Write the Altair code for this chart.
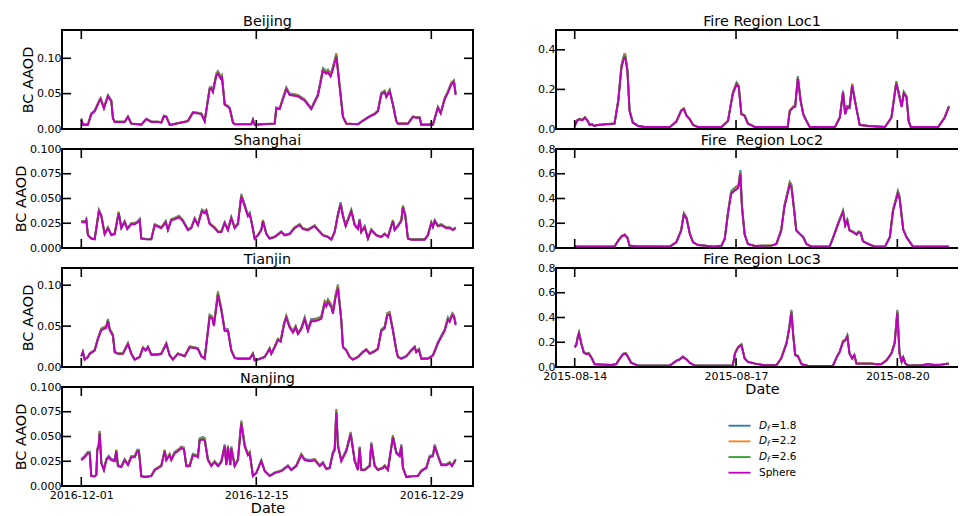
import altair as alt
import pandas as pd

FONT = "DejaVu Sans"

# ---- series definitions -------------------------------------------------
SERIES = ["Df=1.8", "Df=2.2", "Df=2.6", "Sphere"]
SERIES_COLORS = ["#1f77b4", "#ff7f0e", "#2ca02c", "#bf00bf"]
# absorption of each morphology relative to the spherical model
SERIES_RATIO = [1.05, 1.035, 1.02, 1.0]

LEGEND_SYMBOL = ["D", "D", "D", ""]
LEGEND_SUB = ["f", "f", "f", ""]
LEGEND_TEXT = ["=1.8", "=2.2", "=2.6", "Sphere"]

# ---- axis ticks ---------------------------------------------------------
CITY_TICK_DAYS = [0, 14, 28]
CITY_TICK_LABELS = ["2016-12-01", "2016-12-15", "2016-12-29"]
FIRE_TICK_DAYS = [0, 3, 6]
FIRE_TICK_LABELS = ["2015-08-14", "2015-08-17", "2015-08-20"]

# ---- city time series (days since 2016-12-01, BC AAOD for spheres) ------
beijing_day = [0, 0.13, 0.53, 0.8, 1.07, 1.47, 1.55, 1.81, 2.13, 2.4, 2.53, 2.67, 3.47, 3.73, 4.0,
               4.8, 5.2, 5.6, 6.13, 6.4, 6.61, 6.8, 7.07, 7.2, 8.53, 8.93, 9.33, 9.6, 9.87, 10.27,
               10.4, 10.53, 10.8, 10.93, 11.15, 11.25, 11.47, 11.68, 11.87, 12.13, 12.27, 13.6, 13.73,
               13.87, 15.47, 15.6, 15.87, 16.13, 16.4, 16.67, 17.07, 17.33, 17.87, 18.4, 18.67, 18.93,
               19.33, 19.6, 19.73, 19.95, 20.13, 20.4, 20.67, 20.93, 21.2, 22.13, 22.4, 22.93, 23.47,
               23.73, 24.0, 24.27, 24.4, 24.67, 24.93, 25.2, 25.33, 26.13, 26.53, 26.8, 27.07, 27.2,
               28.13, 28.53, 28.75, 29.07, 29.33, 29.6, 29.81, 29.95]
beijing_aod = [0.014, 0.006, 0.006, 0.021, 0.025, 0.040, 0.042, 0.029, 0.046, 0.039, 0.015, 0.010, 0.010,
               0.017, 0.0075, 0.006, 0.014, 0.010, 0.010, 0.009, 0.018, 0.017, 0.006, 0.006, 0.011, 0.023,
               0.022, 0.021, 0.011, 0.056, 0.057, 0.052, 0.075, 0.078, 0.071, 0.073, 0.034, 0.032, 0.029,
               0.009, 0.0066, 0.0066, 0.013, 0.006, 0.0075, 0.029, 0.028, 0.042, 0.056, 0.048, 0.047,
               0.046, 0.040, 0.028, 0.038, 0.047, 0.082, 0.078, 0.080, 0.074, 0.084, 0.102, 0.059, 0.017,
               0.0075, 0.0066, 0.010, 0.016, 0.021, 0.025, 0.049, 0.052, 0.045, 0.053, 0.034, 0.011,
               0.0075, 0.0075, 0.017, 0.016, 0.016, 0.006, 0.006, 0.030, 0.022, 0.042, 0.051, 0.063,
               0.066, 0.048]

shanghai_day = [0, 0.32, 0.4, 0.53, 0.8, 1.07, 1.41, 1.6, 1.87, 2.13, 2.4, 2.67, 2.99, 3.2, 3.47, 3.68,
                3.87, 4.0, 4.27, 4.53, 4.67, 4.8, 5.2, 5.6, 5.87, 6.4, 6.75, 6.93, 7.2, 7.47, 7.81, 8.13,
                8.53, 8.8, 9.07, 9.33, 9.65, 9.87, 10.0, 10.27, 10.67, 10.93, 11.2, 11.47, 11.73, 12.0,
                12.27, 12.53, 12.8, 13.07, 13.33, 13.47, 13.6, 13.87, 14.13, 14.4, 14.53, 14.8, 15.07,
                15.47, 16.0, 16.27, 16.67, 17.07, 17.47, 17.73, 18.13, 18.67, 18.93, 19.33, 19.73, 20.0,
                20.27, 20.53, 20.75, 20.93, 21.15, 21.33, 21.6, 21.87, 22.13, 22.27, 22.4, 22.67, 22.93,
                23.2, 23.6, 24.0, 24.27, 24.53, 24.93, 25.07, 25.33, 25.6, 25.73, 25.92, 26.13, 26.4,
                27.47, 27.73, 28.0, 28.13, 28.27, 28.53, 28.8, 29.2, 29.47, 29.73, 29.95]
shanghai_aod = [0.026, 0.026, 0.028, 0.0127, 0.0094, 0.0087, 0.037, 0.032, 0.014, 0.020, 0.013, 0.014,
                0.035, 0.020, 0.026, 0.019, 0.022, 0.024, 0.024, 0.026, 0.028, 0.0094, 0.0087, 0.0087,
                0.023, 0.020, 0.026, 0.018, 0.028, 0.029, 0.031, 0.027, 0.018, 0.020, 0.029, 0.023, 0.037,
                0.035, 0.037, 0.024, 0.020, 0.016, 0.016, 0.025, 0.018, 0.030, 0.020, 0.024, 0.052, 0.042,
                0.032, 0.034, 0.027, 0.0094, 0.0127, 0.018, 0.027, 0.014, 0.0094, 0.011, 0.016, 0.0127,
                0.014, 0.020, 0.023, 0.019, 0.018, 0.022, 0.018, 0.0127, 0.011, 0.0084, 0.016, 0.033,
                0.044, 0.032, 0.022, 0.028, 0.037, 0.023, 0.019, 0.028, 0.016, 0.021, 0.0094, 0.018,
                0.0127, 0.011, 0.014, 0.011, 0.027, 0.018, 0.022, 0.027, 0.041, 0.032, 0.0094, 0.0084,
                0.0084, 0.0127, 0.025, 0.021, 0.027, 0.022, 0.023, 0.020, 0.020, 0.018, 0.020]

tianjin_day = [0, 0.13, 0.27, 0.53, 0.67, 1.07, 1.33, 1.6, 1.87, 2.0, 2.13, 2.27, 2.53, 2.67, 2.93, 3.33,
               3.73, 4.0, 4.27, 4.67, 4.93, 5.15, 5.33, 5.6, 6.13, 6.4, 6.8, 7.07, 7.33, 7.73, 8.27, 8.67,
               9.07, 9.33, 9.6, 9.87, 10.27, 10.48, 10.61, 10.93, 11.2, 11.47, 11.73, 12.0, 12.27, 12.53,
               13.47, 13.73, 13.87, 14.13, 14.67, 15.07, 15.2, 15.47, 15.73, 15.95, 16.21, 16.4, 16.67,
               16.93, 17.15, 17.33, 17.6, 17.87, 18.13, 18.4, 18.67, 18.93, 19.2, 19.47, 19.6, 19.73,
               20.0, 20.13, 20.32, 20.53, 20.8, 20.93, 21.2, 21.47, 21.73, 22.13, 22.53, 22.8, 23.07,
               23.47, 23.73, 24.0, 24.27, 24.48, 24.67, 24.93, 25.2, 25.33, 25.6, 26.0, 26.4, 26.67,
               26.8, 27.01, 27.2, 27.73, 28.13, 28.53, 29.07, 29.33, 29.47, 29.68, 29.81, 29.95]
tianjin_aod = [0.013, 0.018, 0.009, 0.012, 0.016, 0.020, 0.034, 0.045, 0.047, 0.048, 0.056, 0.045, 0.038,
               0.018, 0.016, 0.016, 0.028, 0.016, 0.009, 0.012, 0.023, 0.020, 0.024, 0.015, 0.015, 0.016,
               0.028, 0.014, 0.009, 0.016, 0.013, 0.024, 0.023, 0.022, 0.013, 0.010, 0.061, 0.059, 0.050,
               0.088, 0.069, 0.044, 0.044, 0.020, 0.011, 0.010, 0.010, 0.016, 0.008, 0.009, 0.012, 0.022,
               0.016, 0.024, 0.033, 0.031, 0.051, 0.060, 0.048, 0.042, 0.048, 0.040, 0.046, 0.058, 0.044,
               0.056, 0.056, 0.057, 0.059, 0.077, 0.074, 0.079, 0.073, 0.065, 0.083, 0.096, 0.056, 0.024,
               0.020, 0.012, 0.009, 0.012, 0.018, 0.021, 0.016, 0.019, 0.022, 0.044, 0.047, 0.063, 0.064,
               0.044, 0.020, 0.012, 0.010, 0.013, 0.020, 0.024, 0.018, 0.021, 0.010, 0.010, 0.014, 0.029,
               0.044, 0.058, 0.055, 0.063, 0.061, 0.051]

nanjing_day = [0, 0.27, 0.53, 0.67, 0.8, 1.07, 1.2, 1.28, 1.39, 1.47, 1.6, 1.81, 2.0, 2.19, 2.4, 2.67,
               2.8, 2.93, 3.2, 3.47, 3.73, 4.0, 4.27, 4.48, 4.61, 4.8, 5.07, 5.47, 5.6, 5.87, 6.13, 6.4,
               6.67, 6.8, 7.07, 7.2, 7.47, 7.73, 8.0, 8.21, 8.4, 8.67, 8.93, 9.2, 9.33, 9.47, 9.73, 9.87,
               10.13, 10.4, 10.67, 10.93, 11.2, 11.47, 11.6, 11.73, 11.92, 12.0, 12.27, 12.53, 12.8,
               13.07, 13.33, 13.47, 13.73, 14.0, 14.4, 14.67, 15.07, 15.47, 16.0, 16.53, 16.8, 17.2,
               17.6, 17.87, 18.27, 18.67, 19.07, 19.33, 19.6, 19.87, 20.13, 20.27, 20.4, 20.53, 20.8,
               21.2, 21.55, 21.87, 22.13, 22.27, 22.4, 22.67, 23.07, 23.2, 23.47, 23.73, 24.13, 24.27,
               24.53, 24.93, 25.2, 25.47, 25.6, 25.73, 26.0, 26.4, 26.93, 27.2, 27.6, 27.87, 28.13,
               28.27, 28.53, 28.8, 29.2, 29.47, 29.65, 29.95]
nanjing_aod = [0.026, 0.029, 0.033, 0.033, 0.010, 0.0097, 0.011, 0.036, 0.040, 0.053, 0.023, 0.016, 0.026,
               0.029, 0.026, 0.025, 0.035, 0.020, 0.019, 0.026, 0.021, 0.029, 0.029, 0.035, 0.035, 0.0097,
               0.009, 0.0097, 0.010, 0.016, 0.018, 0.020, 0.035, 0.026, 0.031, 0.026, 0.033, 0.035, 0.038,
               0.037, 0.020, 0.020, 0.031, 0.030, 0.029, 0.046, 0.047, 0.046, 0.026, 0.020, 0.024, 0.020,
               0.024, 0.040, 0.021, 0.039, 0.021, 0.038, 0.020, 0.026, 0.063, 0.040, 0.031, 0.033, 0.010,
               0.013, 0.025, 0.015, 0.010, 0.013, 0.015, 0.020, 0.016, 0.020, 0.031, 0.026, 0.025, 0.026,
               0.020, 0.023, 0.017, 0.018, 0.033, 0.036, 0.074, 0.040, 0.025, 0.035, 0.052, 0.025, 0.016,
               0.038, 0.016, 0.016, 0.020, 0.042, 0.020, 0.016, 0.018, 0.020, 0.016, 0.049, 0.033, 0.030,
               0.040, 0.018, 0.009, 0.0097, 0.010, 0.015, 0.018, 0.029, 0.030, 0.040, 0.030, 0.021,
               0.021, 0.023, 0.020, 0.026]

# ---- fire region time series (days since 2015-08-14) -------------------
loc1_day = [0, 0.05, 0.09, 0.14, 0.19, 0.24, 0.28, 0.32, 0.36, 0.43, 0.74, 0.81, 0.87, 0.92, 0.94, 0.98,
            1.02, 1.08, 1.18, 1.30, 1.77, 1.89, 1.98, 2.03, 2.08, 2.14, 2.20, 2.29, 2.73, 2.85, 2.94,
            3.01, 3.05, 3.10, 3.16, 3.22, 3.35, 3.96, 4.00, 4.06, 4.10, 4.15, 4.20, 4.25, 4.31, 4.37,
            4.84, 4.93, 4.99, 5.03, 5.07, 5.11, 5.16, 5.21, 5.26, 5.30, 5.46, 5.77, 5.89, 5.98, 6.03,
            6.08, 6.12, 6.17, 6.21, 6.25, 6.76, 6.88, 6.96]
loc1_aod = [0.015, 0.044, 0.049, 0.044, 0.057, 0.040, 0.020, 0.024, 0.015, 0.020, 0.027, 0.14, 0.31, 0.36,
            0.36, 0.29, 0.091, 0.032, 0.015, 0.010, 0.010, 0.037, 0.091, 0.10, 0.066, 0.049, 0.020, 0.010,
            0.010, 0.040, 0.176, 0.225, 0.21, 0.074, 0.066, 0.027, 0.010, 0.010, 0.09, 0.108, 0.112,
            0.255, 0.142, 0.074, 0.040, 0.010, 0.010, 0.057, 0.185, 0.074, 0.111, 0.105, 0.218, 0.142,
            0.074, 0.020, 0.015, 0.010, 0.057, 0.23, 0.172, 0.111, 0.18, 0.159, 0.040, 0.010, 0.010,
            0.057, 0.112]

loc2_day = [0, 0.74, 0.81, 0.87, 0.93, 0.98, 1.02, 1.12, 1.77, 1.89, 1.98, 2.03, 2.08, 2.14, 2.20, 2.29,
            2.60, 2.73, 2.79, 2.85, 2.91, 2.98, 3.03, 3.05, 3.08, 3.11, 3.16, 3.22, 3.35, 3.66, 3.75,
            3.84, 3.90, 4.00, 4.03, 4.08, 4.12, 4.18, 4.25, 4.31, 4.40, 4.74, 4.80, 4.90, 4.99, 5.03,
            5.07, 5.11, 5.18, 5.24, 5.28, 5.32, 5.36, 5.46, 5.58, 5.77, 5.86, 5.92, 5.96, 6.01, 6.04,
            6.11, 6.17, 6.29, 6.96]
loc2_aod = [0.011, 0.011, 0.059, 0.092, 0.105, 0.081, 0.019, 0.014, 0.011, 0.046, 0.14, 0.27, 0.235, 0.114,
            0.046, 0.024, 0.011, 0.019, 0.073, 0.276, 0.438, 0.465, 0.48, 0.50, 0.60, 0.33, 0.108, 0.032,
            0.016, 0.019, 0.032, 0.14, 0.33, 0.51, 0.49, 0.303, 0.14, 0.114, 0.086, 0.032, 0.011, 0.011,
            0.076, 0.195, 0.29, 0.18, 0.22, 0.14, 0.127, 0.108, 0.127, 0.119, 0.054, 0.032, 0.011, 0.011,
            0.086, 0.30, 0.36, 0.44, 0.40, 0.146, 0.086, 0.011, 0.011]

loc3_day = [0, 0.03, 0.06, 0.08, 0.12, 0.17, 0.22, 0.26, 0.31, 0.37, 0.50, 0.68, 0.77, 0.84, 0.90, 0.95,
            0.99, 1.05, 1.18, 1.77, 1.89, 1.95, 2.01, 2.08, 2.14, 2.23, 2.94, 2.98, 3.04, 3.10, 3.16,
            3.22, 3.35, 3.53, 3.75, 3.84, 3.94, 3.99, 4.03, 4.06, 4.10, 4.15, 4.22, 4.34, 4.80, 4.87,
            4.93, 4.99, 5.03, 5.07, 5.11, 5.16, 5.20, 5.24, 5.39, 5.52, 5.61, 5.70, 5.80, 5.89, 5.95,
            6.00, 6.04, 6.08, 6.11, 6.15, 6.20, 6.45, 6.57, 6.70, 6.82, 6.96]
loc3_aod = [0.157, 0.176, 0.244, 0.27, 0.19, 0.114, 0.103, 0.108, 0.076, 0.022, 0.019, 0.016, 0.022, 0.068,
            0.103, 0.108, 0.081, 0.033, 0.011, 0.011, 0.049, 0.06, 0.081, 0.06, 0.033, 0.011, 0.011, 0.108,
            0.157, 0.176, 0.068, 0.041, 0.027, 0.014, 0.014, 0.068, 0.19, 0.31, 0.44, 0.27, 0.095, 0.087,
            0.022, 0.008, 0.008, 0.076, 0.122, 0.203, 0.211, 0.245, 0.108, 0.068, 0.095, 0.027, 0.027,
            0.027, 0.022, 0.022, 0.054, 0.108, 0.19, 0.44, 0.108, 0.041, 0.076, 0.027, 0.011, 0.014,
            0.022, 0.016, 0.019, 0.027]

# ---- layout -------------------------------------------------------------
PANEL_H = 99
CITY_W = 411
FIRE_W = 402           # visible part of the fire panels
FIRE_CENTER = 206      # centre of the full fire panel frame
TICK = 9
CITY_XDOMAIN = [-1.544, 31.336]
FIRE_XDOMAIN = [-0.348, 7.128]


def label_expr(values, labels):
    expr = "''"
    for v, lab in reversed(list(zip(values, labels))):
        expr = f"datum.value == {v} ? '{lab}' : {expr}"
    return expr


def panel(title, days, aod, *, width, xdomain, xticks, xlabels, ydomain, yticks, yfmt,
          show_x, ytitle, closed, center):
    assert len(days) == len(aod), title
    H = PANEL_H
    xscale = alt.Scale(domain=xdomain, nice=False, zero=False)
    yscale = alt.Scale(domain=ydomain, nice=False, zero=False)
    if show_x:
        xaxis = alt.Axis(values=xticks, labelExpr=label_expr(xticks, xlabels), title="Date",
                         ticks=False, tickSize=0, domain=False, grid=False, labelFlush=False,
                         labelOverlap=False, labelPadding=3, titlePadding=1, titleX=center)
    else:
        xaxis = None
    yaxis = alt.Axis(values=yticks, format=yfmt, ticks=False, tickSize=0, domain=False, grid=False,
                     labelPadding=1, labelFlush=False, labelOverlap=False, title=ytitle,
                     titlePadding=1)
    X = alt.X("day:Q", scale=xscale, axis=xaxis)
    Y = alt.Y("aod:Q", scale=yscale, axis=yaxis)

    layers = []
    for c, r in zip(SERIES_COLORS, SERIES_RATIO):
        df = pd.DataFrame({"day": days, "aod": [v * r for v in aod]})
        layers.append(alt.Chart(df).mark_line(color=c, strokeWidth=1.9, clip=True)
                      .encode(x=X, y=Y))

    # inward tick marks on every side
    xt = pd.DataFrame({"day": xticks})
    for y0, y1 in [(0, TICK), (H - TICK, H)]:
        layers.append(alt.Chart(xt).mark_rule(color="black", strokeWidth=1.6)
                      .encode(x=X, y=alt.value(y0), y2=alt.value(y1)))
    yt = pd.DataFrame({"aod": yticks})
    sides = [(0, TICK)] + ([(width - TICK, width)] if closed else [])
    for x0, x1 in sides:
        layers.append(alt.Chart(yt).mark_rule(color="black", strokeWidth=1.6)
                      .encode(y=Y, x=alt.value(x0), x2=alt.value(x1)))

    # frame
    one = pd.DataFrame({"k": [0]})
    right = width if closed else width - 1
    frame = [dict(x=alt.value(0), x2=alt.value(right), y=alt.value(0)),
             dict(x=alt.value(0), x2=alt.value(right), y=alt.value(H)),
             dict(x=alt.value(0), y=alt.value(0), y2=alt.value(H))]
    if closed:
        frame.append(dict(x=alt.value(width), y=alt.value(0), y2=alt.value(H)))
    for enc in frame:
        layers.append(alt.Chart(one).mark_rule(color="black", strokeWidth=2, strokeCap="square")
                      .encode(**enc))

    # panel title
    layers.append(alt.Chart(one).mark_text(text=title, align="center", baseline="alphabetic",
                                           font=FONT, fontSize=14.4, color="black")
                  .encode(x=alt.value(center), y=alt.value(-4)))

    return alt.layer(*layers).properties(width=width, height=H)


city = dict(width=CITY_W, xdomain=CITY_XDOMAIN, xticks=CITY_TICK_DAYS, xlabels=CITY_TICK_LABELS,
            ytitle="BC AAOD", closed=True, center=CITY_W / 2)
fire = dict(width=FIRE_W, xdomain=FIRE_XDOMAIN, xticks=FIRE_TICK_DAYS, xlabels=FIRE_TICK_LABELS,
            ytitle=None, closed=False, center=FIRE_CENTER)
fine = [0, 0.025, 0.05, 0.075, 0.1]
coarse = [0, 0.05, 0.1]
fire_y = [0, 0.2, 0.4, 0.6, 0.8]

beijing = panel("Beijing", beijing_day, beijing_aod, ydomain=[0, 0.14], yticks=coarse,
                yfmt=".2f", show_x=False, **city)
shanghai = panel("Shanghai", shanghai_day, shanghai_aod, ydomain=[0, 0.1], yticks=fine,
                 yfmt=".3f", show_x=False, **city)
tianjin = panel("Tianjin", tianjin_day, tianjin_aod, ydomain=[0, 0.121], yticks=coarse,
                yfmt=".2f", show_x=False, **city)
nanjing = panel("Nanjing", nanjing_day, nanjing_aod, ydomain=[0, 0.1], yticks=fine,
                yfmt=".3f", show_x=True, **city)
loc1 = panel("Fire Region Loc1", loc1_day, loc1_aod, ydomain=[0, 0.5], yticks=[0, 0.2, 0.4],
             yfmt=".1f", show_x=False, **fire)
loc2 = panel("Fire \u00a0Region Loc2", loc2_day, loc2_aod, ydomain=[0, 0.8], yticks=fire_y,
             yfmt=".1f", show_x=False, **fire)
loc3 = panel("Fire Region Loc3", loc3_day, loc3_aod, ydomain=[0, 0.8], yticks=fire_y,
             yfmt=".1f", show_x=True, **fire)

# legend cell (subscripted D_f labels), sitting under the fire panels
legend_df = pd.DataFrame({"series": SERIES, "symbol": LEGEND_SYMBOL, "sub": LEGEND_SUB,
                          "text": LEGEND_TEXT})
ly = alt.Y("series:N", scale=alt.Scale(type="point", domain=SERIES, range=[38.7, 85.7], padding=0),
           axis=None)
lbase = alt.Chart(legend_df)
legend = alt.layer(
    lbase.mark_rule(strokeWidth=1.8).encode(
        x=alt.value(172.5), x2=alt.value(194.5), y=ly,
        color=alt.Color("series:N", scale=alt.Scale(domain=SERIES, range=SERIES_COLORS),
                        legend=None)),
    lbase.mark_text(align="left", baseline="middle", font=FONT, fontSize=10.5, fontStyle="italic",
                    color="black").encode(x=alt.value(203), y=ly, text="symbol:N"),
    lbase.mark_text(align="left", baseline="middle", font=FONT, fontSize=7.5, fontStyle="italic",
                    dy=3, color="black").encode(x=alt.value(211), y=ly, text="sub:N"),
    lbase.transform_filter("datum.sub != ''").mark_text(
        align="left", baseline="middle", font=FONT, fontSize=10.5, color="black"
    ).encode(x=alt.value(215), y=ly, text="text:N"),
    lbase.transform_filter("datum.sub == ''").mark_text(
        align="left", baseline="middle", font=FONT, fontSize=10.5, color="black"
    ).encode(x=alt.value(203), y=ly, text="text:N"),
).properties(width=FIRE_W, height=PANEL_H)

chart = (
    alt.concat(beijing, loc1, shanghai, loc2, tianjin, loc3, nanjing, legend,
               columns=2, spacing={"row": 20, "column": 83}, bounds="flush")
    .properties(padding={"left": 13, "top": 14, "right": 0, "bottom": 0}, background="white")
    .configure_view(stroke=None)
    .configure_axis(labelFont=FONT, labelFontSize=11, labelColor="black", titleFont=FONT,
                    titleFontSize=14.4, titleFontWeight="normal", titleColor="black")
)

chart.save("out.html", embed_options={"renderer": "svg", "actions": False})
